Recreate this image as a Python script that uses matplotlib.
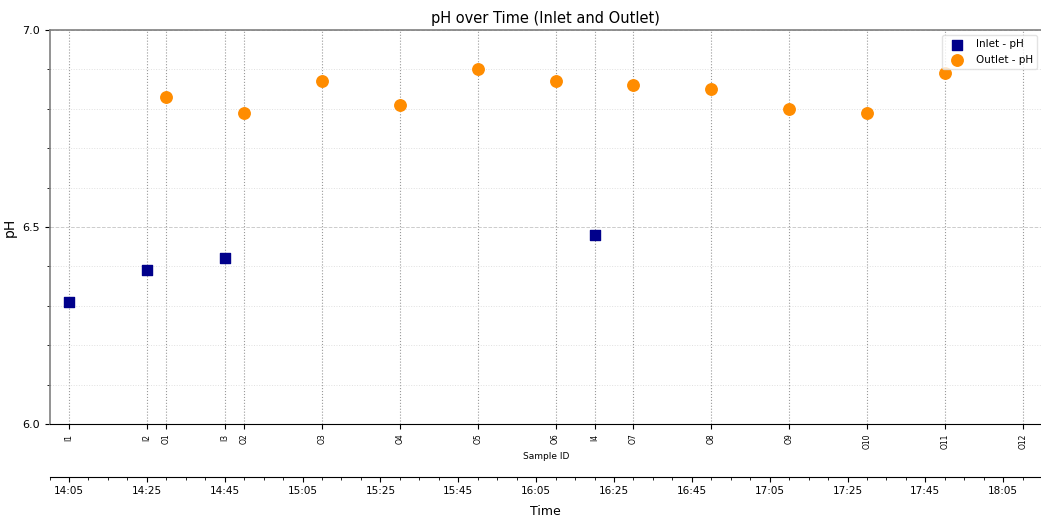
import matplotlib
matplotlib.use('Agg')
import matplotlib.pyplot as plt
import matplotlib.dates as mdates
from matplotlib.ticker import MultipleLocator
import pandas as pd

# 数据
inlet_ids = ['I1', 'I2', 'I3', 'I4']
inlet_times = ['14:05', '14:25', '14:45', '16:20']
inlet_ph = [6.31, 6.39, 6.42, 6.48]

outlet_ids = ['O1', 'O2', 'O3', 'O4', 'O5', 'O6', 'O7', 'O8', 'O9', 'O10', 'O11', 'O12']
outlet_times = ['14:30', '14:50', '15:10', '15:30', '15:50', '16:10',
                '16:30', '16:50', '17:10', '17:30', '17:50', '18:10']
outlet_ph = [6.83, 6.79, 6.87, 6.81, 6.90, 6.87, 6.86, 6.85, 6.80, 6.79, 6.89, None]

def to_num(ts):
    return mdates.date2num(pd.to_datetime(['2024-01-01 ' + t for t in ts]))

t_in = to_num(inlet_times)
t_out = to_num(outlet_times)

fig = plt.figure(figsize=(10.41, 5.17), dpi=100)
ax = fig.add_axes([0.0476, 0.180, 0.9535, 0.762])

# 每个样品的竖虚线
for t in list(t_in) + list(t_out):
    ax.axvline(t, color='#999999', linestyle=':', linewidth=0.8, zorder=1)

ax.scatter(t_in, inlet_ph, marker='s', s=60, color='#00008B', label='Inlet - pH', zorder=3)
ox = [t for t, v in zip(t_out, outlet_ph) if v is not None]
oy = [v for v in outlet_ph if v is not None]
ax.scatter(ox, oy, marker='o', s=68, color='#FF8C00', label='Outlet - pH', zorder=3)

x0, x1 = to_num(['14:00', '18:15'])
ax.set_xlim(x0, x1)
ax.set_ylim(6.0, 7.0)
ax.yaxis.set_major_locator(MultipleLocator(0.5))
ax.yaxis.set_minor_locator(MultipleLocator(0.1))
ax.yaxis.set_major_formatter(plt.FormatStrFormatter('%.1f'))
ax.grid(True, which='major', axis='y', linestyle='--', color='#cccccc', linewidth=0.7)
ax.grid(True, which='minor', axis='y', linestyle=':', color='#e0e0e0', linewidth=0.7)
ax.tick_params(axis='y', labelsize=8)

# 样品编号刻度
all_t = list(t_in) + list(t_out)
all_ids = inlet_ids + outlet_ids
ax.set_xticks(all_t)
ax.set_xticklabels(all_ids, rotation=90, fontsize=5.5)
ax.set_xlabel('Sample ID', fontsize=6.5, labelpad=2)
ax.set_ylabel('pH', fontsize=10)
ax.set_title('pH over Time (Inlet and Outlet)', fontsize=10.5, pad=5)

for s in ['top', 'left', 'right']:
    ax.spines[s].set_color('#808080')
    ax.spines[s].set_linewidth(1.2)
ax.spines['bottom'].set_color('black')

ax.legend(loc='upper right', fontsize=7.5, framealpha=0.8, edgecolor='#dddddd',
          borderaxespad=0.5)

# 时间轴
ax2 = ax.twiny()
ax2.set_xlim(x0, x1)
ax2.xaxis.set_ticks_position('bottom')
ax2.xaxis.set_label_position('bottom')
ax2.spines['bottom'].set_position(('outward', 38))
for s in ['top', 'left', 'right']:
    ax2.spines[s].set_visible(False)
ax2.xaxis.set_major_locator(mdates.MinuteLocator(byminute=[5, 25, 45]))
ax2.xaxis.set_minor_locator(mdates.MinuteLocator(byminute=range(0, 60, 5)))
ax2.xaxis.set_major_formatter(mdates.DateFormatter('%H:%M'))
ax2.tick_params(axis='x', labelsize=7.5)
ax2.set_xlabel('Time', fontsize=9, labelpad=6)

plt.savefig('out.png', dpi=100)
plt.close()
